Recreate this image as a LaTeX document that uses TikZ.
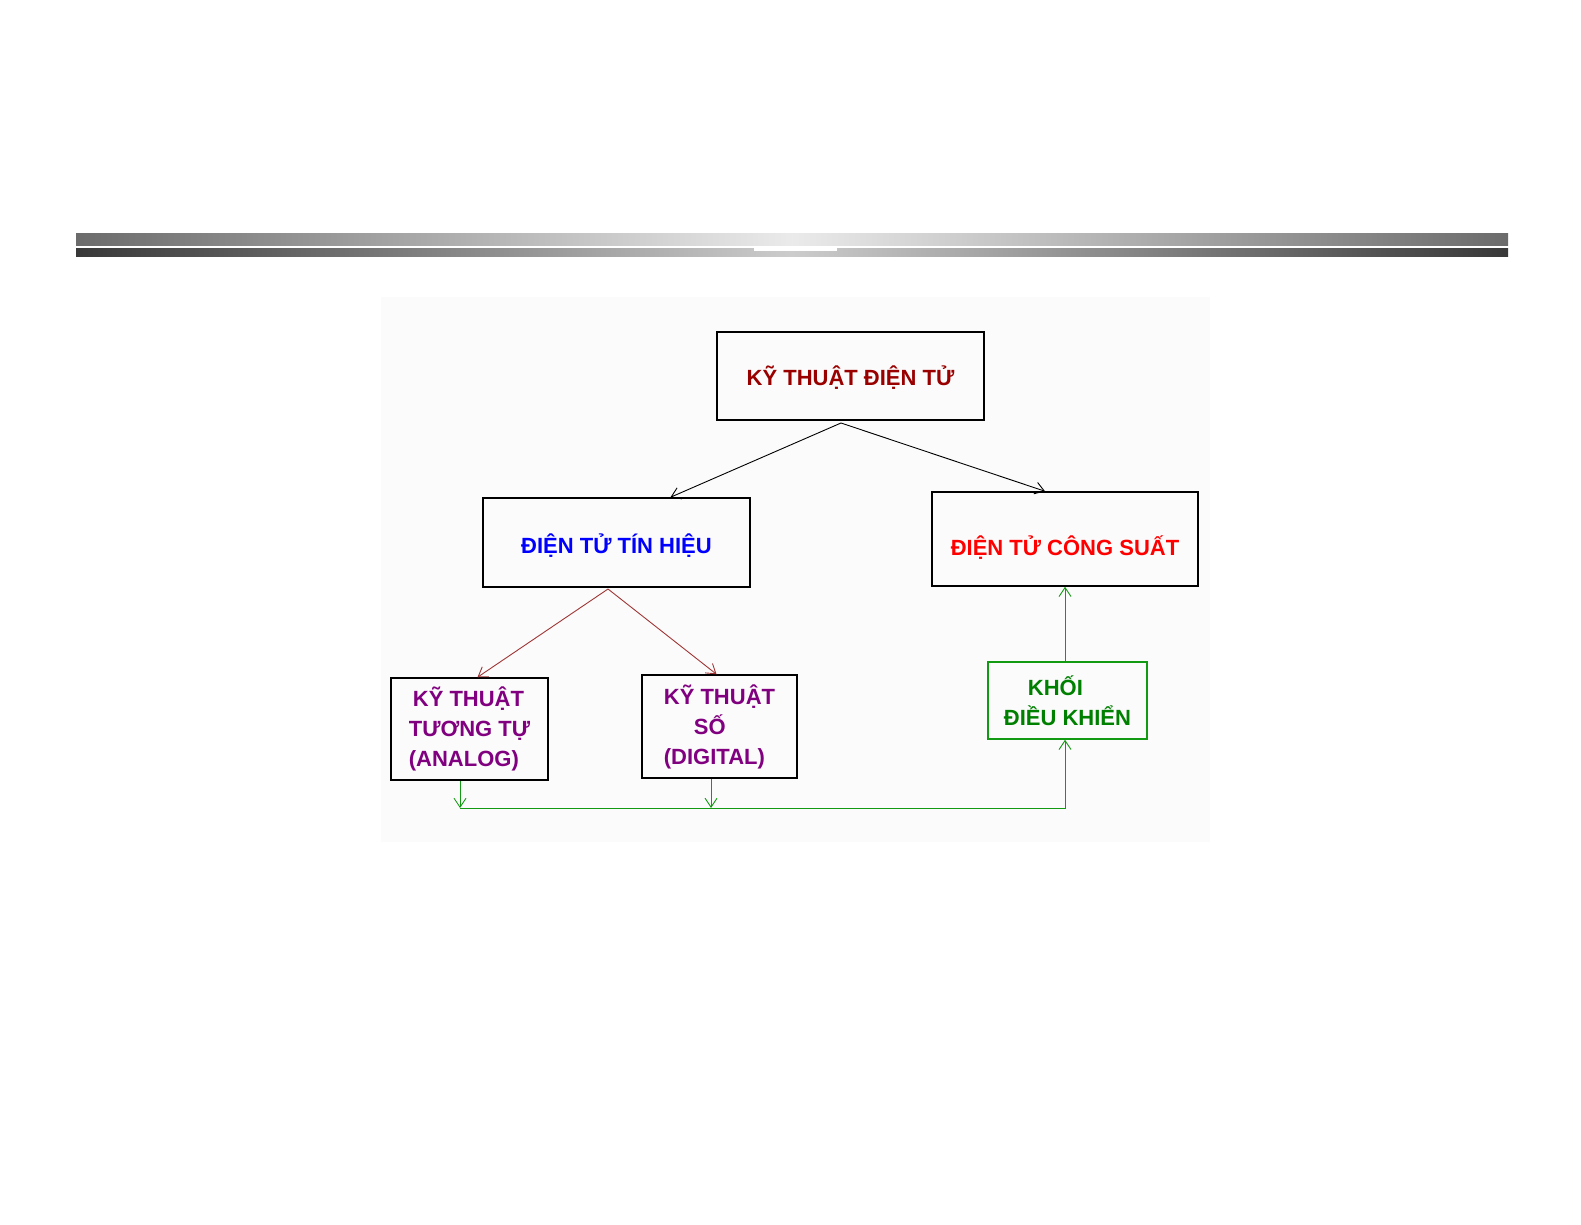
\documentclass[tikz,border=0pt]{standalone}
\usepackage{fontspec}
\setmainfont{Liberation Sans}
\usetikzlibrary{arrows.meta}
\definecolor{DarkRed}{HTML}{990000}
\definecolor{LineRed}{HTML}{A03535}
\definecolor{DeepPurple}{HTML}{800080}
\definecolor{DarkGreen}{HTML}{008000}
\definecolor{LineGreen}{HTML}{139A13}
\begin{document}
\begin{tikzpicture}[x=1pt,y=-1pt,
  block/.style={draw=black,line width=1.5pt,inner sep=0pt,font=\fontsize{22}{30}\selectfont\bfseries},
  link/.style={line width=0.9pt,-{Straight Barb[length=9pt,width=12pt]}}]
  \useasboundingbox[fill=white] (0,0) rectangle (1581,1225);

  \shade[left color=black!58,right color=black!58,middle color=black!8] (76,233) rectangle (1508,245);
  \shade[left color=black!78,right color=black!78,middle color=black!20] (76,248) rectangle (1508,256);
  \fill[white] (754,248) rectangle (837,250.5);
  \fill[black!1.5] (381,297) rectangle (1210,842);

  \node[block,minimum width=267pt,minimum height=88pt,text=DarkRed,text height=22pt,text depth=4pt] (Root) at (850.5,376) {KỸ THUẬT ĐIỆN TỬ};
  \node[block,minimum width=267pt,minimum height=89pt,text=blue,text height=25pt,text depth=4pt] (Signal) at (616.5,542.5) {ĐIỆN TỬ TÍN HIỆU};
  \node[block,minimum width=266pt,minimum height=94pt,text=red,text height=37pt,text depth=4pt] (Power) at (1065,539) {ĐIỆN TỬ CÔNG SUẤT};
  \node[block,minimum width=157pt,minimum height=102pt,text=DeepPurple,align=left] (Analog) at (469.5,729) {\hspace*{4pt}KỸ THUẬT\\TƯƠNG TỰ\\(ANALOG)};
  \node[block,minimum width=155pt,minimum height=103pt,text=DeepPurple,align=left] (Digital) at (719.5,726.5) {KỸ THUẬT\\\hspace*{30pt}SỐ\\(DIGITAL)};
  \node[block,draw=LineGreen,minimum width=159pt,minimum height=77pt,text=DarkGreen,align=left] (Control) at (1067.5,700.5) {\hspace*{24pt}KHỐI\\ĐIỀU KHIỂN};

  \coordinate (Split) at (841,423);
  \coordinate (Fork) at (608,589);
  \coordinate (BusA) at (460,808);
  \coordinate (BusD) at (711,808);
  \coordinate (BusC) at (1065,808);

  \draw[link] (Split) -- ([xshift=54pt]Signal.north);
  \draw[link] (Split) -- ([xshift=-20pt]Power.north);
  \draw[link,LineRed] (Fork) -- ([xshift=8pt]Analog.north);
  \draw[link,LineRed] (Fork) -- ([xshift=-3pt]Digital.north);

  \draw[link,LineGreen] (Analog.south -| BusA) -- (BusA);
  \draw[link,LineGreen] (Digital.south -| BusD) -- (BusD);
  \draw[link,LineGreen] (BusA) -- (BusC) -- (Control.south -| BusC);
  \draw[link,LineGreen] (Control.north -| Power.south) -- (Power.south);
\end{tikzpicture}
\end{document}
